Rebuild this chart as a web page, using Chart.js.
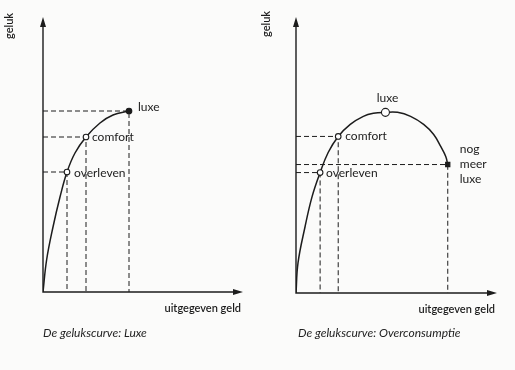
<!DOCTYPE html>
<html>
<head>
<meta charset="utf-8">
<script src="https://cdn.jsdelivr.net/npm/chart.js@4.4.1/dist/chart.umd.min.js"></script>
<style>
  body { margin: 0; background: #fbfbfa; }
  #wrap { position: relative; width: 515px; height: 370px; }
  canvas { position: absolute; top: 0; }
  .cap { position: absolute; top: 325px; font: italic 12px Lato, "Open Sans", sans-serif; color: #222; }
</style>
</head>
<body>
<div id="wrap">
  <canvas id="luxe" width="257" height="370" style="left:0"></canvas>
  <canvas id="over" width="258" height="370" style="left:257px"></canvas>
  <div class="cap" style="left:43px">De gelukscurve: Luxe</div>
  <div class="cap" style="left:298px">De gelukscurve: Overconsumptie</div>
</div>
<script>
// curve (x = uitgegeven geld, y = geluk)
const luxeCurveX = [0, 0.18, 0.5, 0.85, 1.2, 1.6, 2.15, 2.85, 3.5, 4.3];
const luxeCurveY = [0, 1.28, 2.6, 3.8, 4.8, 5.56, 6.2, 6.76, 7.08, 7.24];
const overCurveX = [0, 0.1, 0.45, 0.8, 1.2, 1.6, 2.1, 2.7, 3.35, 3.85, 4.45, 5.05, 5.7, 6.35, 6.85, 7.2, 7.45, 7.55];
const overCurveY = [0, 1.2, 2.64, 3.84, 4.8, 5.6, 6.24, 6.72, 7.04, 7.16, 7.2, 7.2, 7.04, 6.72, 6.32, 5.84, 5.44, 5.12];

// marked points
const luxeNames = ['overleven', 'comfort', 'luxe'];
const luxeX = [1.2, 2.15, 4.3];
const luxeY = [4.8, 6.2, 7.24];
const luxeGuides = [true, true, true];

const overNames = ['overleven', 'comfort', 'luxe', 'nog\nmeer\nluxe'];
const overX = [1.2, 2.1, 4.45, 7.55];
const overY = [4.8, 6.24, 7.2, 5.12];
const overGuides = [true, true, false, true];

const ink = '#1c1c1c';
const font = 'Lato, "Open Sans", sans-serif';

function pts(xs, ys) { return xs.map((x, i) => ({ x: x, y: ys[i] })); }

// axes with arrows, axis names and point labels
const decor = {
  id: 'decor',
  afterDatasetsDraw(chart, args, o) {
    const c = chart.ctx, a = chart.chartArea;
    const sx = chart.scales.x, sy = chart.scales.y;
    c.save();
    c.strokeStyle = ink; c.fillStyle = ink; c.lineWidth = 1.4;
    c.beginPath();
    c.moveTo(a.left, a.top + 4); c.lineTo(a.left, a.bottom); c.lineTo(a.right - 4, a.bottom);
    c.stroke();
    c.beginPath();
    c.moveTo(a.left, a.top); c.lineTo(a.left - 3, a.top + 10); c.lineTo(a.left + 3, a.top + 10); c.closePath();
    c.moveTo(a.right, a.bottom); c.lineTo(a.right - 10, a.bottom - 3); c.lineTo(a.right - 10, a.bottom + 3); c.closePath();
    c.fill();

    c.font = '600 11px ' + font;
    c.textAlign = 'right'; c.textBaseline = 'middle';
    c.fillText('uitgegeven geld', a.right - 2, a.bottom + 16);
    c.save();
    c.translate(o.yTitleX, o.yTitleY);
    c.rotate(-Math.PI / 2);
    c.textAlign = 'center';
    c.fillText('geluk', 0, 0);
    c.restore();

    c.font = '12px ' + font;
    o.names.forEach((n, i) => {
      const px = sx.getPixelForValue(o.xs[i]), py = sy.getPixelForValue(o.ys[i]);
      const off = o.offsets[i];
      c.textAlign = off[2];
      n.split('\n').forEach((line, k) => c.fillText(line, px + off[0], py + off[1] + k * 15));
    });
    c.restore();
  }
};

function makeChart(id, curveX, curveY, names, xs, ys, guides, styles, pad, opts) {
  const datasets = [{
    data: pts(curveX, curveY),
    borderColor: ink, borderWidth: 1.5,
    tension: 0.4,
    pointRadius: 0, order: 2
  }];
  xs.forEach((x, i) => {
    if (!guides[i]) return;
    datasets.push({
      data: [{ x: 0, y: ys[i] }, { x: x, y: ys[i] }, { x: x, y: 0 }],
      borderColor: ink, borderWidth: 1, borderDash: [5, 3],
      pointRadius: 0, order: 3
    });
  });
  datasets.push({
    data: pts(xs, ys),
    showLine: false, order: 1,
    pointStyle: styles.map(s => s[0]),
    pointRadius: styles.map(s => s[1]),
    backgroundColor: styles.map(s => s[2]),
    borderColor: ink, borderWidth: 1.1
  });
  return new Chart(document.getElementById(id), {
    type: 'line',
    data: { datasets: datasets },
    options: {
      responsive: false, animation: false,
      layout: { padding: pad },
      scales: {
        x: { type: 'linear', min: 0, max: 10, display: false },
        y: { min: 0, max: 11, display: false }
      },
      plugins: {
        legend: { display: false }, tooltip: { enabled: false },
        decor: Object.assign({ names: names, xs: xs, ys: ys }, opts)
      }
    },
    plugins: [decor]
  });
}

makeChart('luxe', luxeCurveX, luxeCurveY, luxeNames, luxeX, luxeY, luxeGuides,
  [['circle', 2.8, '#fff'], ['circle', 2.8, '#fff'], ['circle', 2.8, ink]],
  { left: 43, top: 17, right: 14, bottom: 78 },
  { yTitleX: 9, yTitleY: 26,
    offsets: [[7, 1, 'left'], [6, 0, 'left'], [9, -4, 'left']] });

makeChart('over', overCurveX, overCurveY, overNames, overX, overY, overGuides,
  [['circle', 2.8, '#fff'], ['circle', 2.8, '#fff'], ['circle', 4, '#fff'], ['rect', 3, ink]],
  { left: 39, top: 17, right: 18, bottom: 77 },
  { yTitleX: 9, yTitleY: 24,
    offsets: [[6, 1, 'left'], [7, 0, 'left'], [2, -14, 'center'], [12, -15, 'left']] });
</script>
</body>
</html>
